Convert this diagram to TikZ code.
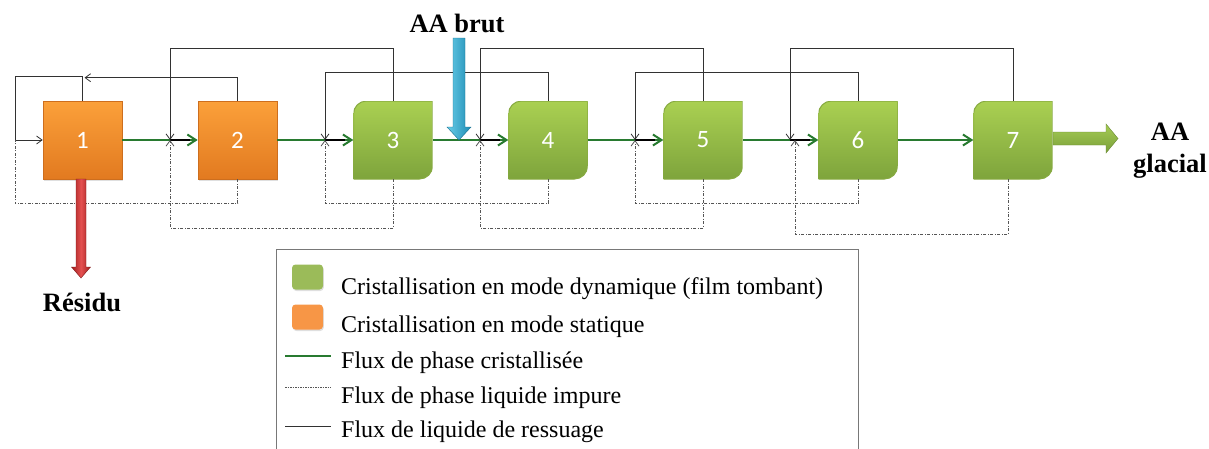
\documentclass[tikz,border=0pt]{standalone}
\usepackage{fontspec}
\setmainfont{Liberation Serif}
\newfontfamily\numfont{Carlito}
\usetikzlibrary{arrows.meta,calc,shadows}
\definecolor{gline}{RGB}{40,122,48}
\definecolor{otop}{RGB}{251,160,58}
\definecolor{obot}{RGB}{226,122,32}
\definecolor{oedge}{RGB}{205,110,30}
\definecolor{gtop}{RGB}{170,208,82}
\definecolor{gbot}{RGB}{126,164,60}
\definecolor{gedge}{RGB}{135,170,65}
\definecolor{rflowc}{RGB}{50,50,50}
\definecolor{dflowc}{RGB}{85,85,85}
\definecolor{lgreen}{RGB}{155,187,89}
\definecolor{lorange}{RGB}{247,150,70}
\definecolor{lgray}{RGB}{120,120,120}
\definecolor{blueL}{RGB}{105,205,232}
\definecolor{blueD}{RGB}{30,140,180}
\definecolor{redL}{RGB}{228,80,80}
\definecolor{redD}{RGB}{160,30,30}
\definecolor{oarrT}{RGB}{165,203,85}
\definecolor{oarrB}{RGB}{122,160,58}
\begin{document}
\begin{tikzpicture}[x=1pt,y=1pt,
  boxbase/.style={minimum width=79pt,minimum height=78pt,inner sep=0pt,
    font=\numfont\fontsize{25}{29}\selectfont,text=white},
  obox/.style={boxbase,top color=otop,bottom color=obot,draw=oedge,line width=0.6pt,
    drop shadow={opacity=0.25,shadow xshift=1.2pt,shadow yshift=-1.5pt}},
  gbox/.style={boxbase,fill=white,path picture={
    \shade[top color=gtop,bottom color=gbot,draw=gedge,line width=1pt]
      (path picture bounding box.south west)
      -- ([yshift=-13pt]path picture bounding box.north west)
      arc[start angle=180,end angle=90,radius=13pt]
      -- (path picture bounding box.north east)
      -- ([yshift=13pt]path picture bounding box.south east)
      arc[start angle=0,end angle=-90,radius=13pt]
      -- cycle;}},
  gflow/.style={draw=gline,line width=2.2pt,-{Straight Barb[length=8.5pt,width=11pt,line width=2pt]}},
  blackseg/.style={draw=black,line width=1.6pt},
  rflow/.style={draw=rflowc,line width=0.9pt},
  jtip/.style={-{Straight Barb[length=5.5pt,width=8pt,line width=0.8pt]}},
  dflow/.style={draw=dflowc,line width=0.8pt,dash pattern=on 3pt off 1.5pt on 1pt off 1.5pt},
  bigtext/.style={font=\bfseries\fontsize{26.5}{30}\selectfont,anchor=base,inner sep=0pt},
  legtext/.style={font=\fontsize{24}{28}\selectfont,anchor=base west,inner sep=0pt},
  swatch/.style={minimum width=31pt,minimum height=25pt,inner sep=0pt,rounded corners=3.5pt,
    drop shadow={opacity=0.25,shadow xshift=0.8pt,shadow yshift=-1.5pt}}
]
\useasboundingbox (0,0) rectangle (1209,-448);

% boxes
\node[obox] (b1) at (82.5,-140) {1};
\node[obox] (b2) at (237.5,-140) {2};
\node[gbox] (b3) at (393,-140) {3};
\node[gbox] (b4) at (548,-140) {4};
\node[gbox] (b5) at (703,-140) {5};
\node[gbox] (b6) at (858,-140) {6};
\node[gbox] (b7) at (1013,-140) {7};

% junctions
\coordinate (j1) at (15,-140);
\coordinate (j2) at (170,-140);
\coordinate (j3) at (325,-140);
\coordinate (j4) at (480,-140);
\coordinate (j5) at (635,-140);
\coordinate (j6) at (790,-140);
\coordinate (j6d) at (795,-140);

% crystallised flow
\foreach \a/\b in {b1/b2,b2/b3,b3/b4,b4/b5,b5/b6,b6/b7}
  \draw[gflow] (\a.east) -- (\b.west);
\foreach \j/\b in {j2/b2,j3/b3,j4/b4,j5/b5,j6/b6}
  \draw[blackseg] (\j) -- ([xshift=-8pt]\b.west);

% sweating liquid flows
\draw[rflow,jtip] (b1.north) -- ++(0,24) -| (j1) -- (b1.west);
\draw[rflow,jtip] (b2.north) |- ([xshift=2pt,yshift=23pt]b1.north);
\draw[rflow,jtip] (b3.north) -- ++(0,52) -| (j2);
\draw[rflow,jtip] (b4.north) -- ++(0,28) -| (j3);
\draw[rflow,jtip] (b5.north) -- ++(0,52) -| (j4);
\draw[rflow,jtip] (b6.north) -- ++(0,28) -| (j5);
\draw[rflow,jtip] (b7.north) -- ++(0,52) -| (j6);

% impure liquid flows
\draw[dflow] (b2.south) -- ++(0,-24) -| (j1);
\draw[dflow,jtip] (b3.south) -- ++(0,-49) -| (j2);
\draw[dflow,jtip] (b4.south) -- ++(0,-24) -| (j3);
\draw[dflow,jtip] (b5.south) -- ++(0,-49) -| (j4);
\draw[dflow,jtip] (b6.south) -- ++(0,-24) -| (j5);
\draw[dflow,jtip] ([xshift=-5pt]b7.south) -- ++(0,-55) -| (j6d);

% feed arrow (AA brut)
\node[bigtext] (brut) at (457,-32) {AA brut};
\shade[left color=blueL,right color=blueD,draw=blueD!80!black,line width=0.4pt]
  (453,-38) -- (465,-38) -- (465,-127) -- (471,-127) -- (459,-140) -- (447,-127) -- (453,-127) -- cycle;

% residue arrow
\shade[left color=redD,right color=redD,middle color=redL,draw=redD!80!black,line width=0.4pt]
  (76,-179) -- (86,-179) -- (86,-267) -- (90.5,-267) -- (81,-278) -- (71.5,-267) -- (76,-267) -- cycle;
\node[bigtext] (res) at (82,-311) {Résidu};

% product arrow
\shade[top color=oarrT,bottom color=oarrB,draw=oarrB!85!black,line width=0.4pt]
  (1053,-132) -- (1106,-132) -- (1106,-124) -- (1118,-138.5) -- (1106,-153) -- (1106,-145) -- (1053,-145) -- cycle;
\node[bigtext] (aa) at (1170,-140) {AA};
\node[bigtext] (glac) at (1170,-172) {glacial};

% legend
\node[draw=lgray,line width=1.4pt,anchor=north west,minimum width=582pt,minimum height=215pt,inner sep=0pt] (leg) at (276,-249) {};
\node[swatch,fill=lgreen] (sw1) at (307.5,-277) {};
\node[swatch,fill=lorange] (sw2) at (307.5,-317) {};
\coordinate (l1a) at (285,-356); \coordinate (l1b) at (331,-356);
\coordinate (l2a) at (285,-387); \coordinate (l2b) at (331,-387);
\coordinate (l3a) at (285,-426); \coordinate (l3b) at (331,-426);
\draw[draw=gline,line width=1.8pt] (l1a) -- (l1b);
\draw[draw=dflowc,line width=0.8pt,dash pattern=on 1.5pt off 1pt] (l2a) -- (l2b);
\draw[draw=rflowc,line width=1pt] (l3a) -- (l3b);
\node[legtext] (t1) at (341,-294) {Cristallisation en mode dynamique (film tombant)};
\node[legtext] (t2) at (341,-332) {Cristallisation en mode statique};
\node[legtext] (t3) at (341,-368) {Flux de phase cristallisée};
\node[legtext] (t4) at (341,-403) {Flux de phase liquide impure};
\node[legtext] (t5) at (341,-437) {Flux de liquide de ressuage};
\end{tikzpicture}
\end{document}
